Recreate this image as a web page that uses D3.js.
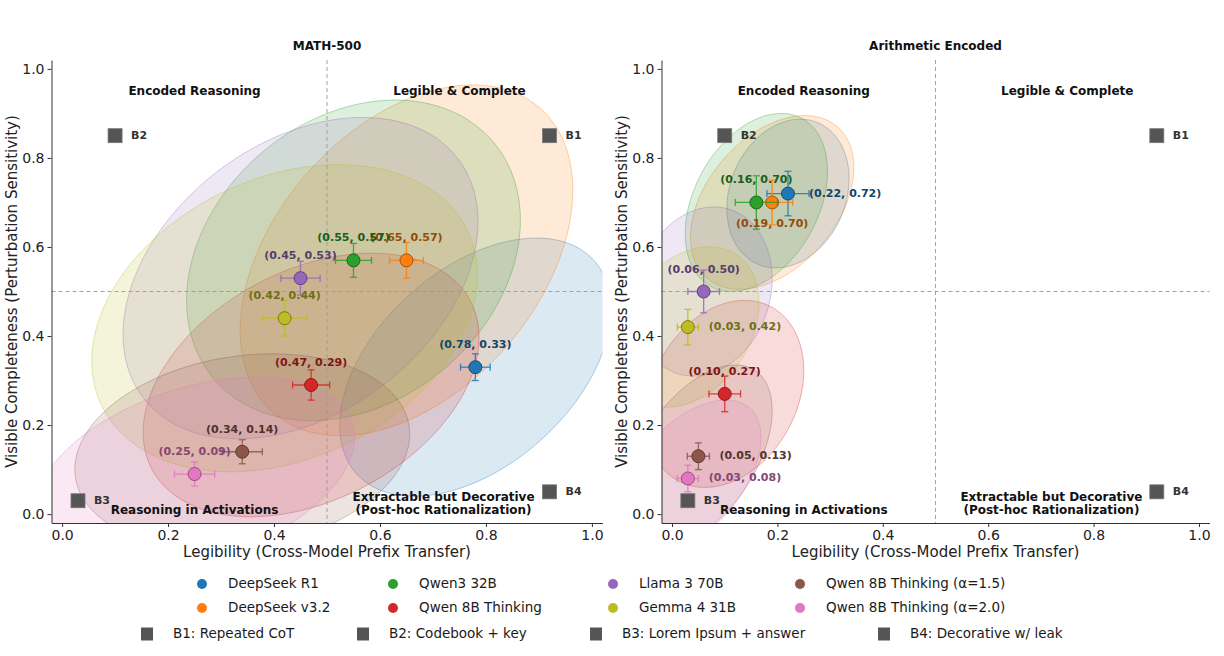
<!DOCTYPE html>
<html>
<head>
<meta charset="utf-8">
<script src="https://cdn.jsdelivr.net/npm/d3@7/dist/d3.min.js"></script>
<style>
  body { margin: 0; background: #fff; }
  svg { font-family: "DejaVu Sans", sans-serif; }
</style>
</head>
<body>
<svg id="chart" width="1224" height="656"></svg>
<script>
var models = ['DeepSeek R1', 'DeepSeek v3.2', 'Qwen3 32B', 'Qwen 8B Thinking',
              'Llama 3 70B', 'Gemma 4 31B', 'Qwen 8B Thinking (\u03b1=1.5)', 'Qwen 8B Thinking (\u03b1=2.0)'];
var colors = ['#1f77b4', '#ff7f0e', '#2ca02c', '#d62728', '#9467bd', '#bcbd22', '#8c564b', '#e377c2'];

// MATH-500
var mathLegibility   = [0.78, 0.65, 0.55, 0.47, 0.45, 0.42, 0.34, 0.25];
var mathCompleteness = [0.33, 0.57, 0.57, 0.29, 0.53, 0.44, 0.14, 0.09];
var mathLegErr       = [0.028, 0.032, 0.034, 0.035, 0.037, 0.042, 0.038, 0.038];
var mathCompErr      = [0.030, 0.040, 0.038, 0.034, 0.038, 0.040, 0.027, 0.027];
var mathSpreadX      = [0.256, 0.314, 0.315, 0.317, 0.335, 0.364, 0.316, 0.302];
var mathSpreadY      = [0.290, 0.394, 0.360, 0.296, 0.361, 0.345, 0.220, 0.217];
var mathCorr         = [0.45, 0.40, 0.25, 0.36, 0.35, 0.28, 0.18, 0.38];

// Arithmetic Encoded
var arithLegibility   = [0.22, 0.19, 0.16, 0.10, 0.06, 0.03, 0.05, 0.03];
var arithCompleteness = [0.72, 0.70, 0.70, 0.27, 0.50, 0.42, 0.13, 0.08];
var arithLegErr       = [0.040, 0.039, 0.040, 0.030, 0.030, 0.020, 0.021, 0.020];
var arithCompErr      = [0.050, 0.050, 0.060, 0.040, 0.048, 0.040, 0.030, 0.030];
var arithSpreadX      = [0.116, 0.155, 0.135, 0.150, 0.130, 0.135, 0.140, 0.139];
var arithSpreadY      = [0.167, 0.195, 0.200, 0.210, 0.190, 0.180, 0.205, 0.176];
var arithCorr         = [0.20, 0.40, 0.35, 0.25, 0.15, 0.30, 0.50, 0.52];

// baselines
var baselineNames = ['B1', 'B2', 'B3', 'B4'];
var baselineDesc  = ['Repeated CoT', 'Codebook + key', 'Lorem Ipsum + answer', 'Decorative w/ leak'];
var baselineX     = [0.92, 0.10, 0.03, 0.92];
var baselineY     = [0.85, 0.85, 0.03, 0.05];

var tickValues = [0, 0.2, 0.4, 0.6, 0.8, 1.0];
var quadrants = [
  {lines: ['Encoded Reasoning'], x: 0.25, y: 0.95},
  {lines: ['Legible & Complete'], x: 0.75, y: 0.95},
  {lines: ['Reasoning in Activations'], x: 0.25, y: 0.007},
  {lines: ['Extractable but Decorative', '(Post-hoc Rationalization)'], x: 0.72, y: 0.007}
];

var svg = d3.select('#chart');
var plotTop = 60, plotBottom = 523;

var panels = [
  {title: 'MATH-500', left: 51.5, right: 602.5,
   xs: mathLegibility, ys: mathCompleteness, xe: mathLegErr, ye: mathCompErr,
   sx: mathSpreadX, sy: mathSpreadY, rho: mathCorr,
   side: ['above', 'above', 'above', 'above', 'above', 'above', 'above', 'above']},
  {title: 'Arithmetic Encoded', left: 661.5, right: 1209.5,
   xs: arithLegibility, ys: arithCompleteness, xe: arithLegErr, ye: arithCompErr,
   sx: arithSpreadX, sy: arithSpreadY, rho: arithCorr,
   side: ['right', 'below', 'above', 'above', 'above', 'right', 'right', 'right']}
];

panels.forEach(function(p, pi) {
  var x = d3.scaleLinear().domain([-0.02, 1.02]).range([p.left, p.right]);
  var y = d3.scaleLinear().domain([-0.02, 1.02]).range([plotBottom, plotTop]);
  var g = svg.append('g');

  g.append('clipPath').attr('id', 'clip' + pi)
    .append('rect')
    .attr('x', p.left).attr('y', plotTop)
    .attr('width', p.right - p.left).attr('height', plotBottom - plotTop);

  // covariance ellipses
  var line = d3.line()
    .x(function(d) { return x(d[0]); })
    .y(function(d) { return y(d[1]); })
    .curve(d3.curveLinearClosed);

  g.append('g').attr('clip-path', 'url(#clip' + pi + ')')
    .selectAll('path').data(models).enter().append('path')
    .attr('d', function(m, i) {
      var s = Math.sqrt(1 - p.rho[i] * p.rho[i]);
      var pts = d3.range(0, 360, 2).map(function(a) {
        var t = a * Math.PI / 180;
        return [p.xs[i] + p.sx[i] * Math.cos(t),
                p.ys[i] + p.sy[i] * (p.rho[i] * Math.cos(t) + s * Math.sin(t))];
      });
      return line(pts);
    })
    .style('fill', function(m, i) { return colors[i]; })
    .style('fill-opacity', 0.16)
    .style('stroke', function(m, i) { return colors[i]; })
    .style('stroke-opacity', 0.35)
    .style('stroke-width', 1);

  // threshold lines
  g.append('line')
    .attr('x1', x(0.5)).attr('x2', x(0.5)).attr('y1', plotTop).attr('y2', plotBottom)
    .style('stroke', '#999').style('stroke-width', 0.9).style('stroke-dasharray', '4,3');
  g.append('line')
    .attr('x1', p.left).attr('x2', p.right).attr('y1', y(0.5)).attr('y2', y(0.5))
    .style('stroke', '#999').style('stroke-width', 0.9).style('stroke-dasharray', '4,3');

  // axes
  var xAxis = g.append('g').attr('transform', 'translate(0,' + plotBottom + ')')
    .call(d3.axisBottom(x).tickValues(tickValues).tickFormat(d3.format('.1f')).tickSize(4).tickSizeOuter(0));
  var yAxis = g.append('g').attr('transform', 'translate(' + p.left + ',0)')
    .call(d3.axisLeft(y).tickValues(tickValues).tickFormat(d3.format('.1f')).tickSize(4).tickSizeOuter(0));
  [xAxis, yAxis].forEach(function(a) {
    a.select('.domain').style('stroke', '#333').style('stroke-width', 1);
    a.selectAll('.tick line').style('stroke', '#333');
    a.selectAll('.tick text').style('font-size', '14px').style('fill', '#222')
      .style('font-family', '"DejaVu Sans", sans-serif');
  });

  // quadrant labels
  quadrants.forEach(function(q) {
    q.lines.forEach(function(t, li) {
      g.append('text')
        .attr('x', x(q.x))
        .attr('y', y(q.y) - (q.lines.length - 1 - li) * 13)
        .attr('text-anchor', 'middle').attr('dominant-baseline', 'middle')
        .style('font-size', '12px').style('font-weight', 'bold').style('fill', '#111')
        .text(t);
    });
  });

  // baselines
  baselineNames.forEach(function(b, i) {
    g.append('rect')
      .attr('x', x(baselineX[i]) - 7).attr('y', y(baselineY[i]) - 7)
      .attr('width', 14).attr('height', 14)
      .style('fill', '#555').style('stroke', '#777').style('stroke-width', 0.8);
    g.append('text')
      .attr('x', x(baselineX[i]) + 16).attr('y', y(baselineY[i]))
      .attr('dominant-baseline', 'middle')
      .style('font-size', '11px').style('font-weight', 'bold').style('fill', '#333')
      .text(b);
  });

  // error bars and means
  models.forEach(function(m, i) {
    var cx = x(p.xs[i]), cy = y(p.ys[i]);
    var x0 = x(p.xs[i] - p.xe[i]), x1 = x(p.xs[i] + p.xe[i]);
    var y0 = y(p.ys[i] - p.ye[i]), y1 = y(p.ys[i] + p.ye[i]);
    var eg = g.append('g').style('stroke', colors[i]).style('stroke-width', 1.3).style('stroke-opacity', 0.85);
    eg.append('line').attr('x1', x0).attr('x2', x1).attr('y1', cy).attr('y2', cy);
    eg.append('line').attr('x1', cx).attr('x2', cx).attr('y1', y0).attr('y2', y1);
    eg.append('line').attr('x1', x0).attr('x2', x0).attr('y1', cy - 3.5).attr('y2', cy + 3.5);
    eg.append('line').attr('x1', x1).attr('x2', x1).attr('y1', cy - 3.5).attr('y2', cy + 3.5);
    eg.append('line').attr('x1', cx - 3.5).attr('x2', cx + 3.5).attr('y1', y0).attr('y2', y0);
    eg.append('line').attr('x1', cx - 3.5).attr('x2', cx + 3.5).attr('y1', y1).attr('y2', y1);
    g.append('circle').attr('cx', cx).attr('cy', cy).attr('r', 6.5)
      .style('fill', colors[i])
      .style('stroke', d3.color(colors[i]).darker(1.2))
      .style('stroke-width', 1);
  });

  models.forEach(function(m, i) {
    var cx = x(p.xs[i]), cy = y(p.ys[i]);
    var side = p.side[i];
    var t = g.append('text')
      .attr('dominant-baseline', 'middle')
      .style('font-size', '11px').style('font-weight', 'bold')
      .style('fill', d3.color(colors[i]).darker(1.5))
      .text('(' + p.xs[i].toFixed(2) + ', ' + p.ys[i].toFixed(2) + ')');
    if (side === 'right') t.attr('x', cx + 21).attr('y', cy).attr('text-anchor', 'start');
    else if (side === 'below') t.attr('x', cx).attr('y', cy + 22).attr('text-anchor', 'middle');
    else t.attr('x', cx).attr('y', cy - 22).attr('text-anchor', 'middle');
  });

  // titles and axis labels
  var mid = (p.left + p.right) / 2;
  g.append('text').attr('x', mid).attr('y', 46)
    .attr('text-anchor', 'middle').attr('dominant-baseline', 'middle')
    .style('font-size', '12px').style('font-weight', 'bold').style('fill', '#111')
    .text(p.title);
  g.append('text').attr('x', mid).attr('y', 552)
    .attr('text-anchor', 'middle').attr('dominant-baseline', 'middle')
    .style('font-size', '15px').style('fill', '#222')
    .text('Legibility (Cross-Model Prefix Transfer)');
  g.append('text')
    .attr('transform', 'translate(' + (p.left - 39) + ',' + ((plotTop + plotBottom) / 2) + ') rotate(-90)')
    .attr('text-anchor', 'middle').attr('dominant-baseline', 'middle')
    .style('font-size', '15px').style('fill', '#222')
    .text('Visible Completeness (Perturbation Sensitivity)');
});

// legend
var legendCols = [202, 393, 613, 800];
var legend = svg.append('g');
models.forEach(function(m, i) {
  var lx = legendCols[Math.floor(i / 2)], ly = 584 + (i % 2) * 24;
  legend.append('circle').attr('cx', lx).attr('cy', ly).attr('r', 5).style('fill', colors[i]);
  legend.append('text').attr('x', lx + 26).attr('y', ly)
    .attr('dominant-baseline', 'middle')
    .style('font-size', '13.5px').style('fill', '#1a1a1a').text(m);
});
var baseCols = [147, 363, 596, 884];
baselineNames.forEach(function(b, i) {
  var lx = baseCols[i], ly = 634;
  legend.append('rect').attr('x', lx - 6).attr('y', ly - 6.5).attr('width', 12).attr('height', 13)
    .style('fill', '#555');
  legend.append('text').attr('x', lx + 26).attr('y', ly)
    .attr('dominant-baseline', 'middle')
    .style('font-size', '13.5px').style('fill', '#1a1a1a').text(b + ': ' + baselineDesc[i]);
});
</script>
</body>
</html>
